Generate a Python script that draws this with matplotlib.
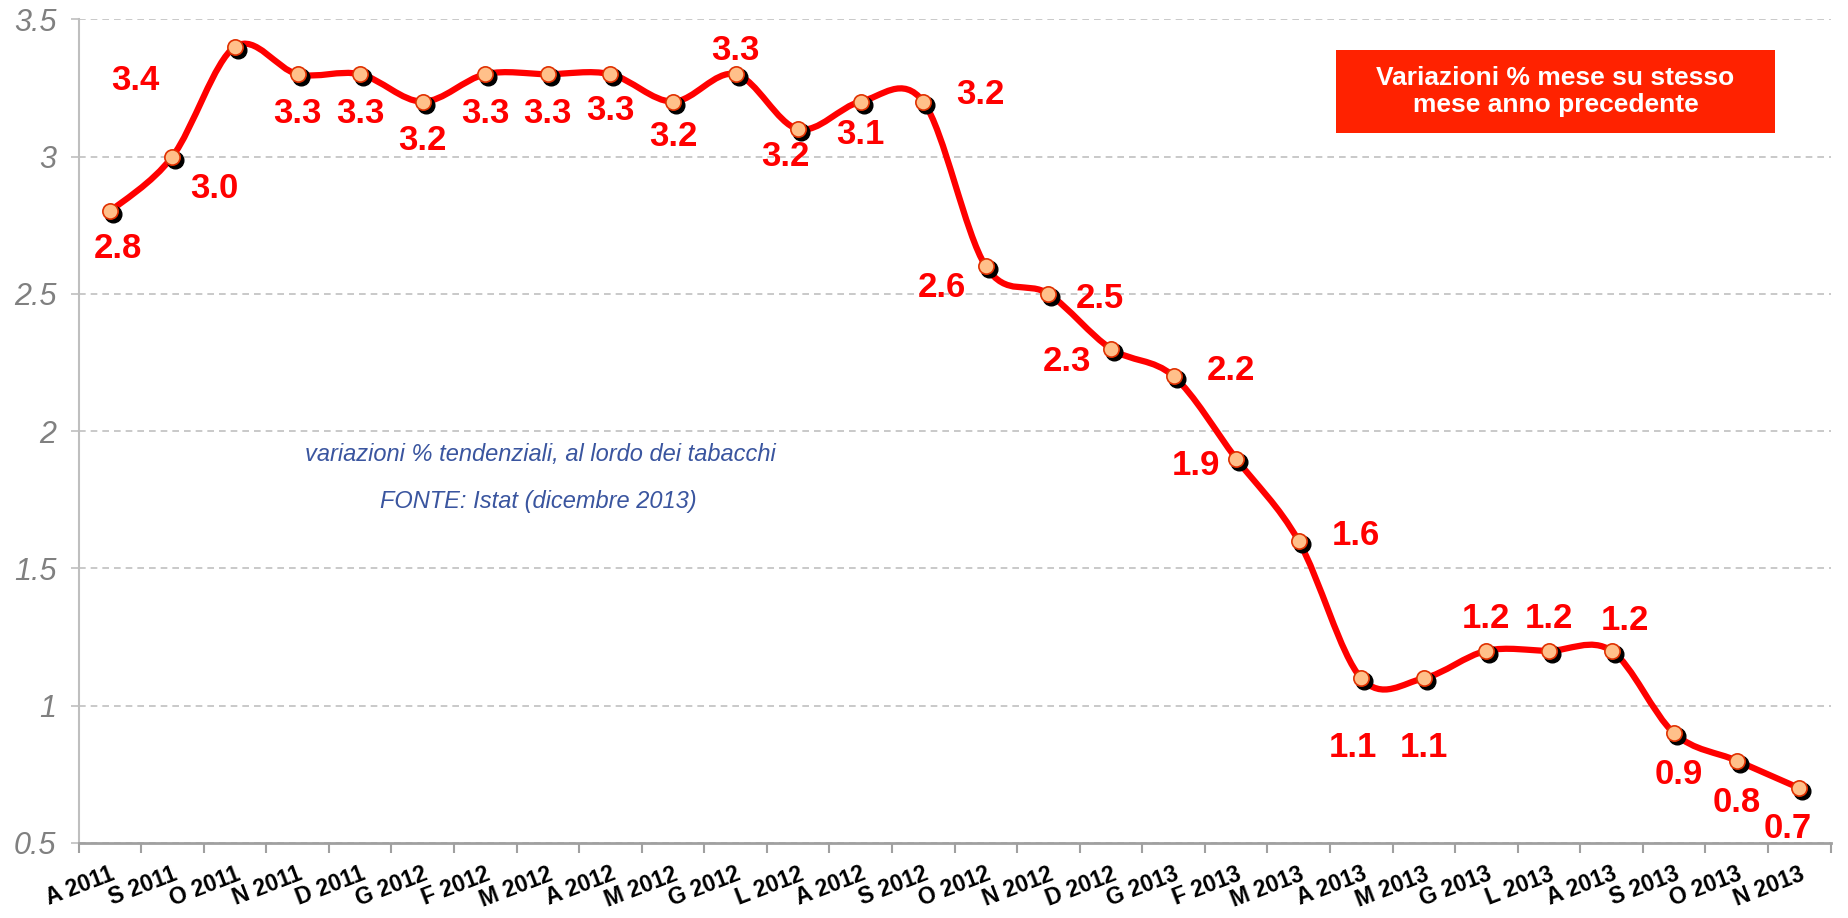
import matplotlib
matplotlib.use('Agg')
import matplotlib.pyplot as plt
from matplotlib.path import Path
from matplotlib.patches import PathPatch, Rectangle
from matplotlib.transforms import offset_copy
import numpy as np

plt.rcParams['font.family'] = ['Liberation Sans', 'DejaVu Sans']

# Months (Aug 2011 - Nov 2013), Italian initials
months = ['A 2011', 'S 2011', 'O 2011', 'N 2011', 'D 2011', 'G 2012', 'F 2012',
          'M 2012', 'A 2012', 'M 2012', 'G 2012', 'L 2012', 'A 2012', 'S 2012',
          'O 2012', 'N 2012', 'D 2012', 'G 2013', 'F 2013', 'M 2013', 'A 2013',
          'M 2013', 'G 2013', 'L 2013', 'A 2013', 'S 2013', 'O 2013', 'N 2013']

# Year-on-year % change
values = [2.8, 3.0, 3.4, 3.3, 3.3, 3.2, 3.3, 3.3, 3.3, 3.2, 3.3, 3.1, 3.2, 3.2,
          2.6, 2.5, 2.3, 2.2, 1.9, 1.6, 1.1, 1.1, 1.2, 1.2, 1.2, 0.9, 0.8, 0.7]

# Data labels as printed on the chart
label_texts = ['2.8', '3.0', '3.4', '3.3', '3.3', '3.2', '3.3', '3.3', '3.3', '3.2',
               '3.3', '3.2', '3.1', '3.2', '2.6', '2.5', '2.3', '2.2', '1.9', '1.6',
               '1.1', '1.1', '1.2', '1.2', '1.2', '0.9', '0.8', '0.7']

# label offsets from their point, in points
label_offsets = [(6, -27), (30, -23), (-72, -24), (0, -28), (0, -28), (0, -28), (0, -28),
                 (0, -28), (0, -26), (0, -25), (0, 17), (-9, -20), (0, -24), (41, 5),
                 (-32, -15), (37, -3), (-32, -9), (41, 4), (-29, -5), (41, 4),
                 (-6, -50), (0, -50), (0, 23), (0, 23), (10, 22), (3, -30), (0, -30),
                 (-8, -29)]

RED = '#FF0000'


def smooth_path(xs, ys):
    # Catmull-Rom style bezier through the points (like Excel's smoothed line)
    pts = np.column_stack([xs, ys]).astype(float)
    n = len(pts)
    verts = [pts[0]]
    codes = [Path.MOVETO]
    for i in range(n - 1):
        p_prev = pts[max(i - 1, 0)]
        p_next2 = pts[min(i + 2, n - 1)]
        c1 = pts[i] + (pts[i + 1] - p_prev) / 6.0
        c2 = pts[i + 1] - (p_next2 - pts[i]) / 6.0
        verts += [c1, c2, pts[i + 1]]
        codes += [Path.CURVE4] * 3
    return Path(verts, codes)


fig = plt.figure(figsize=(18.49, 9.18), dpi=100)
ax = fig.add_axes([0.0425, 0.0817, 0.9475, 0.8973])

x = np.arange(len(values))

ax.set_xlim(-0.5, len(values) - 0.5)
ax.set_ylim(0.5, 3.5)

# grid
ax.set_yticks(np.arange(0.5, 3.51, 0.5))
ax.set_yticklabels(['0.5', '1', '1.5', '2', '2.5', '3', '3.5'])
ax.yaxis.grid(True, color='#C0C0C0', linestyle=(0, (4, 3)), linewidth=1.2)
ax.set_axisbelow(True)

# smoothed line
ax.add_patch(PathPatch(smooth_path(x, values), facecolor='none', edgecolor=RED,
                       linewidth=4.5, capstyle='round', joinstyle='round', zorder=3))

# marker shadows, then markers
shadow_tr = offset_copy(ax.transData, fig=fig, x=3, y=-3, units='dots')
ax.plot(x, values, 'o', markersize=12, color='black', transform=shadow_tr, zorder=4)
ax.plot(x, values, 'o', markersize=11, markerfacecolor='#FFC08A',
        markeredgecolor='#E03000', markeredgewidth=1.2, zorder=5)

# data labels
for xi, yi, txt, (dx, dy) in zip(x, values, label_texts, label_offsets):
    ax.annotate(txt, (xi, yi), xytext=(dx, dy), textcoords='offset points',
                ha='center', va='center', fontsize=25, fontweight='bold',
                color=RED, zorder=6)

# axes styling
for side in ['top', 'right']:
    ax.spines[side].set_visible(False)
ax.spines['left'].set_color('#BFBFBF')
ax.spines['left'].set_linewidth(1.5)
ax.spines['bottom'].set_color('#A0A0A0')
ax.spines['bottom'].set_linewidth(2)

ax.tick_params(axis='y', length=6, width=1.2, color='#BFBFBF', labelsize=22,
               labelcolor='#808080', pad=10)
for lab in ax.get_yticklabels():
    lab.set_fontstyle('italic')

# x: ticks on the boundaries, labels on the categories
ax.set_xticks(np.arange(-0.5, len(values), 1.0))
ax.set_xticklabels([])
ax.tick_params(axis='x', which='major', length=7, width=1.5, color='#A0A0A0')
ax.set_xticks(x, minor=True)
ax.set_xticklabels(months, minor=True, rotation=21, ha='right',
                   rotation_mode='anchor', fontsize=16.5, fontweight='bold')
ax.tick_params(axis='x', which='minor', length=0, pad=14)

# legend-like red box
fig.patches.append(Rectangle((0.7225, 0.8551), 0.2374, 0.0904, transform=fig.transFigure,
                             facecolor='#FF2200', edgecolor='none', zorder=10))
fig.text(0.7225 + 0.2374 / 2, 0.8551 + 0.0904 / 2,
         'Variazioni % mese su stesso\nmese anno precedente',
         ha='center', va='center', color='white', fontsize=19, fontweight='bold',
         linespacing=1.2, zorder=11)

# note
fig.text(0.292, 0.5054, 'variazioni % tendenziali, al lordo dei tabacchi',
         ha='center', va='center', fontsize=17, fontstyle='italic', color='#3A559F')
fig.text(0.291, 0.4542, 'FONTE: Istat (dicembre 2013)',
         ha='center', va='center', fontsize=17, fontstyle='italic', color='#3A559F')

fig.savefig('out.png', dpi=100)
